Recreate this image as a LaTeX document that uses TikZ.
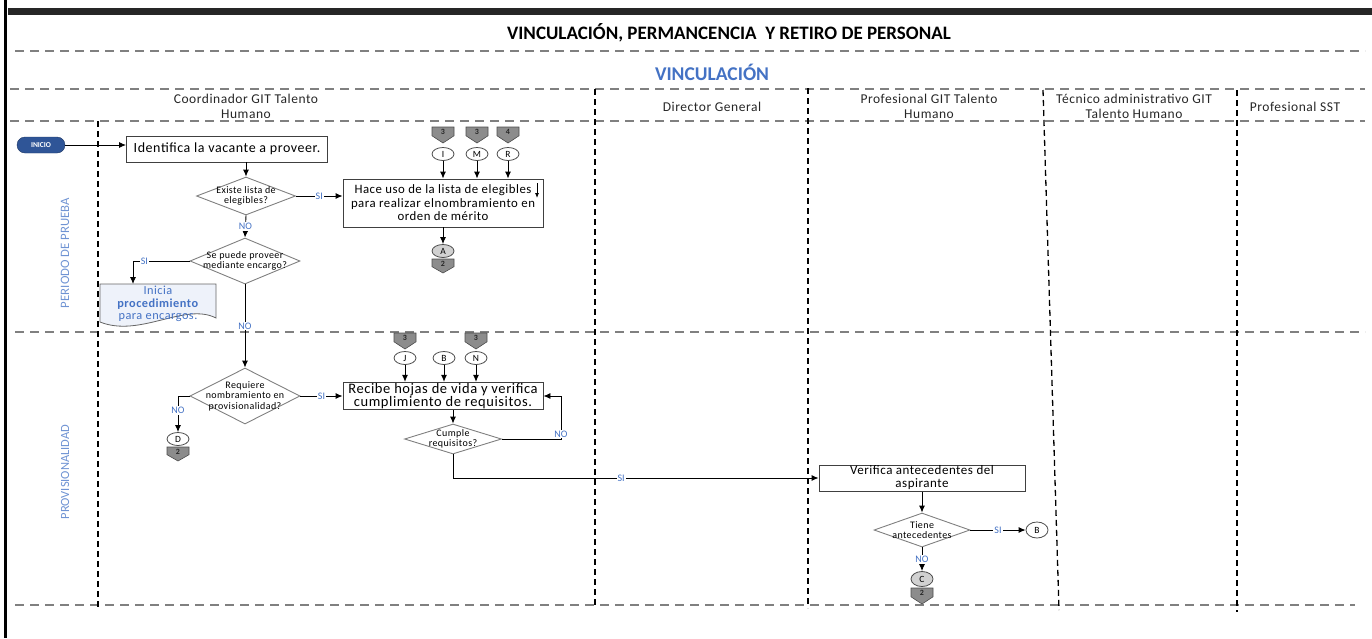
\documentclass[tikz,border=0pt]{standalone}
\usepackage{fontspec}
\setmainfont{Carlito}
\newfontfamily\spfont[LetterSpace=4]{Carlito}
\newfontfamily\hdfont[LetterSpace=4]{Carlito}
\usetikzlibrary{arrows.meta,shapes.geometric,calc}
\definecolor{lblue}{HTML}{4472C4}
\definecolor{rowblue}{HTML}{6F93D3}
\definecolor{iniblue}{HTML}{2F5597}
\definecolor{inidark}{HTML}{1F3864}
\definecolor{docfill}{HTML}{EEF2FA}
\newcommand\offpg[5]{%
  \path[draw=black!70, fill=black!45, line width=0.6pt] ({#2-11},#3) -- ({#2+11},#3) -- ({#2+11},{#3+#4*0.55}) -- (#2,{#3+#4}) -- ({#2-11},{#3+#4*0.55}) -- cycle;
  \node[font=\bfseries\fontsize{8}{8}\selectfont, inner sep=0pt, text=black!85] (#1) at (#2,{#3+#4*0.32}) {#5};}
\begin{document}
\begin{tikzpicture}[x=1pt,y=-1pt,
  hd/.style={font=\hdfont\fontsize{13.5}{14.5}\selectfont, align=center, text=black!85},
  box/.style={draw=black!75, line width=0.9pt, fill=white, align=center, inner sep=1pt, font=\spfont\fontsize{14}{14}\selectfont},
  dia/.style={diamond, draw=black!50, line width=0.9pt, fill=white, inner sep=0pt},
  dtx/.style={align=center, font=\spfont\fontsize{10}{10.5}\selectfont, inner sep=0pt},
  con/.style={ellipse, draw=black!70, line width=0.8pt, fill=white, minimum width=22pt, minimum height=13pt, inner sep=0pt, font=\fontsize{9.5}{9.5}\selectfont},
  cong/.style={con, fill=black!18},
  yn/.style={fill=white, text=lblue, inner sep=1pt, font=\fontsize{10}{10}\selectfont},
  arr/.style={draw=black, line width=0.9pt, -{Latex[length=7pt,width=6pt]}},
  hdash/.style={draw=black!50, line width=2pt, dash pattern=on 9pt off 6pt},
  vdash/.style={draw=black, line width=1.3pt, dash pattern=on 6pt off 4pt},
  ini/.style={rectangle, rounded corners=8pt, draw=inidark, fill=iniblue, text=white, font=\bfseries\fontsize{7.5}{7.5}\selectfont, minimum width=48pt, minimum height=16pt, inner sep=0pt}
]
\useasboundingbox (0,0) rectangle (1372,638);
% frame
\fill[black] (3.5,0) rectangle (6.5,638);
\fill[black!85] (8,8) rectangle (1372,15);
% titles
\node[font=\bfseries\fontsize{19}{19}\selectfont] (title) at (729,33) {VINCULACIÓN, PERMANCENCIA\ \ Y RETIRO DE PERSONAL};
\node[font=\bfseries\fontsize{19.5}{19.5}\selectfont, text=lblue] (sec) at (712,72) {VINCULACIÓN};
% grid
\draw[hdash] (15,51) -- (1365,51);
\draw[hdash] (10,89) -- (1365,89);
\draw[hdash] (10,121) -- (1365,121);
\draw[hdash] (15,332) -- (1365,332);
\draw[hdash] (15,605) -- (1355,605);
\draw[vdash] (98,121) -- (98,610);
\draw[vdash] (595,89) -- (595,608);
\draw[vdash] (808,88) -- (808,608);
\draw[vdash] (1043,90) -- (1059,610);
\draw[vdash] (1237,90) -- (1237,612);
% headers
\node[hd] (h1) at (246,106.5) {Coordinador GIT Talento\\Humano};
\node[hd] (h2) at (712,107) {Director General};
\node[hd] (h3) at (929,106.5) {Profesional GIT Talento\\Humano};
\node[hd] (h4) at (1134,106.5) {Técnico administrativo GIT\\Talento Humano};
\node[hd] (h5) at (1295,107) {Profesional SST};
\node[rotate=90, text=rowblue, font=\fontsize{12.8}{12.8}\selectfont] (r1) at (65,253) {PERIODO DE PRUEBA};
\node[rotate=90, text=rowblue, font=\fontsize{12.5}{12.5}\selectfont] (r2) at (65,472) {PROVISIONALIDAD};
% nodes row 1
\node[ini] (ini) at (41,145) {INICIO};
\node[box, minimum width=201pt, minimum height=26pt] (b1) at (227,149) {Identifica la vacante a proveer.};
\node[dia, minimum width=99pt, minimum height=38pt] (d1) at (246,196) {};
\node[dtx] (d1t) at (246,196) {Existe lista de\\elegibles?};
\node[box, minimum width=200pt, minimum height=48pt, font=\spfont\fontsize{12.8}{13.5}\selectfont] (b2) at (443,203) {Hace uso de la lista de elegibles\\para realizar elnombramiento en\\orden de mérito};
\node[dia, minimum width=110pt, minimum height=46pt] (d2) at (245,261) {};
\node[dtx] (d2t) at (245,261) {Se puede proveer\\mediante encargo?};
\path[draw=black!60, line width=0.8pt, fill=docfill] (100,284) -- (216,284) -- (216,318) .. controls (185,302) and (140,338) .. (100,322) -- cycle;
\node[text=lblue, align=center, font=\spfont\fontsize{12.3}{12.3}\selectfont] (doc) at (158,304) {Inicia\\\textbf{procedimiento}\\para encargos.};
\coordinate (docin) at (133,284);
\offpg{p1}{443}{127}{16}{3}
\offpg{p2}{477}{127}{16}{3}
\offpg{p3}{508}{127}{16}{4}
\node[con] (cI) at (443,154) {I};
\node[con] (cM) at (477,154) {M};
\node[con] (cR) at (508,154) {R};
\node[cong] (cA) at (443,251) {A};
\offpg{p4}{443}{259}{14}{2}
\coordinate (sa1) at (537,183);
\coordinate (sa2) at (537,198);
% row 2
\node[dia, minimum width=110pt, minimum height=56pt] (d3) at (245,396) {};
\node[dtx] (d3t) at (245,396) {Requiere\\nombramiento en\\provisionalidad?};
\node[box, minimum width=200pt, minimum height=26pt, font=\spfont\fontsize{14.5}{13}\selectfont] (b3) at (443,396) {Recibe hojas de vida y verifica\\cumplimiento de requisitos.};
\node[dia, minimum width=97pt, minimum height=30pt] (d4) at (453,439) {};
\node[dtx] (d4t) at (453,439) {Cumple\\requisitos?};
\node[box, minimum width=206pt, minimum height=26pt, font=\spfont\fontsize{13}{13}\selectfont] (b4) at (922,478) {Verifica antecedentes del\\aspirante};
\node[dia, minimum width=96pt, minimum height=34pt] (d5) at (922,530) {};
\node[dtx] (d5t) at (922,530) {Tiene\\antecedentes};
\offpg{p5}{405}{333}{16}{3}
\offpg{p6}{476}{333}{16}{3}
\node[con] (cJ) at (405,358) {J};
\node[con] (cB1) at (444,358) {B};
\node[con] (cN) at (476,358) {N};
\node[con] (cD) at (178,439) {D};
\offpg{p7}{178}{447}{14}{2}
\node[con, minimum height=16pt] (cB2) at (1037,530) {B};
\node[cong, minimum height=15pt] (cC) at (922,579) {C};
\offpg{p8}{922}{588}{16}{2}
\coordinate (k1) at (561,439);
% connectors
\draw[arr] (ini.east) -- (ini.east -| b1.west);
\draw[arr] (b1.south -| d1.north) -- (d1.north);
\draw[arr] (d1.east) -- node[yn]{SI} (d1.east -| b2.west);
\draw[arr] (d1.south) -- node[yn]{NO} (d2.north);
\draw[arr] (d2.west) -| node[yn,pos=0.4]{SI} (docin);
\draw[arr] (d2.south) -- node[yn,pos=0.5]{NO} (d3.north);
\draw[arr] (cI) -- (cI |- b2.north);
\draw[arr] (cM) -- (cM |- b2.north);
\draw[arr] (cR) -- (cR |- b2.north);
\draw[arr] (b2.south) -- (cA.north);
\draw[-{Latex[length=5pt,width=4pt]}, line width=0.8pt] (sa1) -- (sa2);
\draw[arr] (d3.east) -- node[yn]{SI} (d3.east -| b3.west);
\draw[arr] (d3.west) -| node[yn,pos=0.7]{NO} (cD.north);
\draw[arr] (cJ) -- (cJ |- b3.north);
\draw[arr] (cB1) -- (cB1 |- b3.north);
\draw[arr] (cN) -- (cN |- b3.north);
\draw[arr] (b3.south -| d4.north) -- (d4.north);
\draw[arr] (d4.east) -- (k1) |- (b3.east);
\node[yn] (noK) at (561,434) {NO};
\draw[arr] (d4.south) |- node[yn,pos=0.73]{SI} (b4.west);
\draw[arr] (b4.south) -- (d5.north);
\draw[arr] (d5.east) -- node[yn]{SI} (cB2.west);
\draw[arr] (d5.south) -- node[yn]{NO} (cC.north);
\end{tikzpicture}
\end{document}
